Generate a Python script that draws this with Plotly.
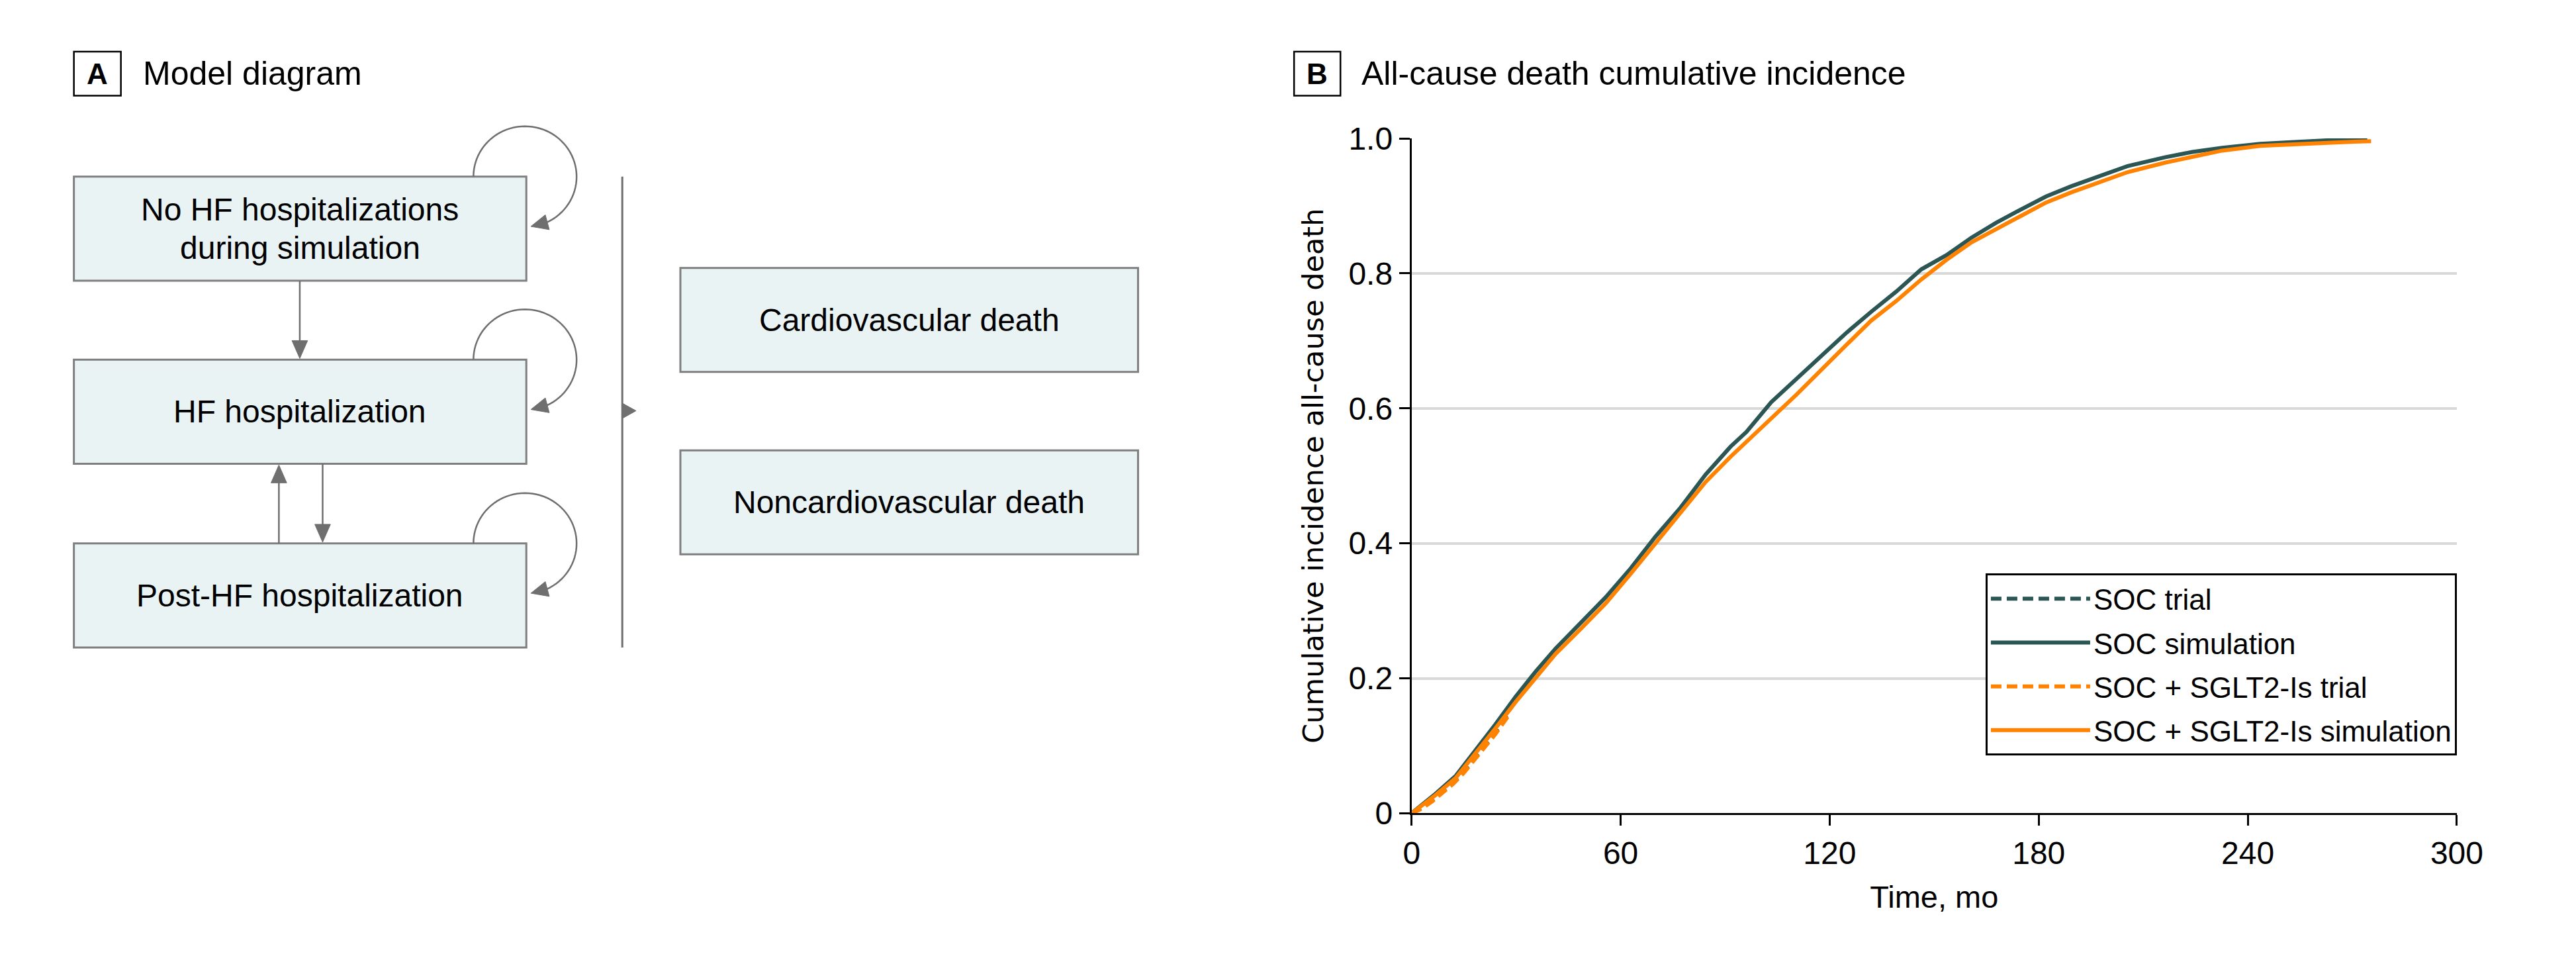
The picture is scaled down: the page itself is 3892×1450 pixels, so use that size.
import math
import plotly.graph_objects as go

W, H = 3892, 1450

# ---------------- data ----------------
soc_sim_t = [0, 6.9, 12.6, 18.4, 24.1, 29.9, 35.6, 41.3, 48.5, 55.7, 62.9, 70.0, 77.2, 84.4,
             91.5, 96.1, 103.2, 110.4, 117.6, 124.8, 131.9, 139.1, 146.3, 153.5, 160.7, 167.8,
             175.0, 182.1, 189.3, 196.5, 205.5, 216.2, 224.1, 232.7, 243.6, 254.3, 265.0, 274.3]
soc_sim_v = [0, 0.029, 0.055, 0.093, 0.132, 0.173, 0.210, 0.244, 0.283, 0.320, 0.363, 0.410, 0.453, 0.502,
             0.543, 0.565, 0.609, 0.643, 0.678, 0.712, 0.743, 0.773, 0.806, 0.827, 0.853, 0.875,
             0.895, 0.914, 0.929, 0.943, 0.959, 0.972, 0.980, 0.986, 0.992, 0.995, 0.998, 1.0]

sglt_sim_t = [0, 6.9, 12.6, 18.4, 24.1, 29.9, 35.6, 41.3, 48.5, 55.7, 62.9, 70.0, 77.2, 84.4,
              91.5, 98.7, 103.2, 110.4, 117.6, 124.8, 131.9, 139.1, 146.3, 153.5, 160.7, 167.8,
              175.0, 182.1, 189.3, 196.5, 205.5, 216.2, 224.1, 232.7, 243.6, 254.3, 265.0, 275.4]
sglt_sim_v = [0, 0.027, 0.052, 0.089, 0.126, 0.165, 0.200, 0.236, 0.273, 0.311, 0.355, 0.400, 0.445, 0.491,
              0.528, 0.562, 0.585, 0.620, 0.658, 0.694, 0.730, 0.759, 0.791, 0.820, 0.846, 0.866,
              0.886, 0.905, 0.920, 0.934, 0.950, 0.964, 0.973, 0.982, 0.989, 0.992, 0.994, 0.996]

soc_trial_t = [0, 3, 6, 9, 12, 15, 18, 21, 24, 28]
soc_trial_v = [0, 0.008, 0.020, 0.033, 0.046, 0.062, 0.082, 0.100, 0.120, 0.150]

sglt_trial_t = [0, 3, 6, 9, 12, 15, 18, 21, 24, 28]
sglt_trial_v = [0, 0.007, 0.018, 0.031, 0.044, 0.060, 0.079, 0.097, 0.117, 0.146]

x_tick_vals = [0, 60, 120, 180, 240, 300]
y_tick_vals = [0, 0.2, 0.4, 0.6, 0.8, 1.0]
y_tick_text = ["0", "0.2", "0.4", "0.6", "0.8", "1.0"]

series_names = ["SOC trial", "SOC simulation", "SOC + SGLT2-Is trial", "SOC + SGLT2-Is simulation"]

left_states = ["No HF hospitalizations|during simulation", "HF hospitalization", "Post-HF hospitalization"]
right_states = ["Cardiovascular death", "Noncardiovascular death"]

# ---------------- styles ----------------
FONT = "Liberation Sans, Arial, sans-serif"
YFONT = "DejaVu Sans, Verdana, sans-serif"
DARK = "#2B5653"
ORANGE = "#FF8300"
BOX_FILL = "#E9F3F4"
BOX_LINE = "#7F7F7F"
ARROW = "#6F6F6F"


def X(p):
    return p / W


def Y(p):
    return 1 - p / H


shapes = []
annotations = []


def rect(x0, y0, x1, y1, fill, color, width):
    shapes.append(dict(type="rect", xref="paper", yref="paper", x0=X(x0), x1=X(x1), y0=Y(y1), y1=Y(y0),
                       fillcolor=fill, line=dict(color=color, width=width), layer="above"))


def line(x0, y0, x1, y1, color, width):
    shapes.append(dict(type="line", xref="paper", yref="paper", x0=X(x0), x1=X(x1), y0=Y(y0), y1=Y(y1),
                       line=dict(color=color, width=width), layer="above"))


def poly(pts, fill=None, color=ARROW, width=2.5, closed=False):
    d = "M " + " L ".join(f"{X(a):.6f},{Y(b):.6f}" for a, b in pts)
    if closed:
        d += " Z"
    shp = dict(type="path", xref="paper", yref="paper", path=d, line=dict(color=color, width=width), layer="above")
    if fill:
        shp["fillcolor"] = fill
    shapes.append(shp)


def arrow_head(tip, direction, length=28, half=12):
    dx, dy = direction
    n = math.hypot(dx, dy)
    dx, dy = dx / n, dy / n
    bx, by = tip[0] - dx * length, tip[1] - dy * length
    px_, py_ = -dy, dx
    poly([tip, (bx + px_ * half, by + py_ * half), (bx - px_ * half, by - py_ * half)],
         fill=ARROW, color=ARROW, width=1, closed=True)


def text(x, y, s, size, anchor="center", font=FONT, bold=False):
    if bold:
        s = f"<b>{s}</b>"
    annotations.append(dict(xref="paper", yref="paper", x=X(x), y=Y(y), text=s, showarrow=False,
                            xanchor=anchor, yanchor="middle", font=dict(family=font, size=size, color="black")))


# ---------------- panel A: model diagram ----------------
BX0, BX1 = 100, 793
box_tops = [250, 537, 825]
BH = 163
for i, top in enumerate(box_tops):
    rect(BX0, top, BX1, top + BH, BOX_FILL, BOX_LINE, 3)
    lab = left_states[i].split("|")
    cy = top + BH / 2
    if len(lab) == 2:
        text((BX0 + BX1) / 2, cy - 30, lab[0], 48)
        text((BX0 + BX1) / 2, cy + 30, lab[1], 48)
    else:
        text((BX0 + BX1) / 2, cy, lab[0], 48)
    # self loop arc
    cx, cyc, r = BX1 - 2, top, 79
    pts = []
    for k in range(0, 61):
        th = math.radians(180 - k * (245 / 60))
        pts.append((cx + r * math.cos(th), cyc - r * math.sin(th)))
    poly(pts, color=ARROW, width=2.5)
    end = pts[-1]
    tip = (BX1 + 7, top + 78)
    arrow_head(tip, (tip[0] - end[0], tip[1] - end[1]), length=26, half=12)

# vertical transitions
line(446, box_tops[0] + BH, 446, box_tops[1] - 26, ARROW, 2.5)
arrow_head((446, box_tops[1] - 2), (0, 1))
line(481, box_tops[1] + BH, 481, box_tops[2] - 26, ARROW, 2.5)
arrow_head((481, box_tops[2] - 2), (0, 1))
line(414, box_tops[2], 414, box_tops[1] + BH + 26, ARROW, 2.5)
arrow_head((414, box_tops[1] + BH + 2), (0, -1))

# bracket line towards death states
line(940, 250, 940, 988, ARROW, 3)
poly([(940, 605), (961, 617), (940, 629)], fill=ARROW, color=ARROW, width=1, closed=True)

RX0, RX1 = 1029, 1730
for i, top in enumerate([393, 679]):
    rect(RX0, top, RX1, top + BH, BOX_FILL, BOX_LINE, 3)
    text((RX0 + RX1) / 2, top + BH / 2, right_states[i], 48)

# panel labels
rect(100, 54, 172, 123, "white", "black", 2.5)
text(136, 89, "A", 44, bold=True)
text(204, 88, "Model diagram", 50, anchor="left")
rect(1969, 54, 2040, 123, "white", "black", 2.5)
text(2004.5, 89, "B", 44, bold=True)
text(2070, 88, "All-cause death cumulative incidence", 50, anchor="left")

# ---------------- panel B: curves ----------------
fig = go.Figure()
fig.add_trace(go.Scatter(x=soc_trial_t, y=soc_trial_v, mode="lines", name=series_names[0], legendgroup="g1",
                         line=dict(color=DARK, width=6, dash="16px,8px")))
fig.add_trace(go.Scatter(x=soc_sim_t, y=soc_sim_v, mode="lines", name=series_names[1], legendgroup="g2",
                         line=dict(color=DARK, width=6)))
fig.add_trace(go.Scatter(x=sglt_trial_t, y=sglt_trial_v, mode="lines", name=series_names[2], legendgroup="g3",
                         line=dict(color=ORANGE, width=6, dash="16px,8px")))
fig.add_trace(go.Scatter(x=sglt_sim_t, y=sglt_sim_v, mode="lines", name=series_names[3], legendgroup="g4",
                         line=dict(color=ORANGE, width=6)))

fig.update_layout(
    width=W, height=H,
    margin=dict(l=0, r=0, t=0, b=0),
    paper_bgcolor="white", plot_bgcolor="white",
    font=dict(family=FONT, size=46, color="black"),
    shapes=shapes, annotations=annotations,
    showlegend=True,
    legend=dict(x=3750 / W, y=Y(872), xanchor="right", yanchor="top",
                bordercolor="black", borderwidth=3, bgcolor="white",
                font=dict(family=FONT, size=44, color="black"),
                itemwidth=150, tracegroupgap=6),
    xaxis=dict(domain=[2149 / W, 3750 / W], range=[0, 300], tickvals=x_tick_vals,
               ticks="outside", ticklen=16, tickwidth=3, tickcolor="black",
               showline=True, linecolor="black", linewidth=3, showgrid=False, zeroline=False,
               tickfont=dict(family=FONT, size=48),
               title=dict(text="Time, mo", font=dict(family=FONT, size=47), standoff=25)),
    yaxis=dict(domain=[1 - 1248 / H, 1 - 190 / H], range=[0, 1.0], tickvals=y_tick_vals, ticktext=y_tick_text,
               ticks="outside", ticklen=16, tickwidth=3, tickcolor="black",
               showline=True, linecolor="black", linewidth=3, showgrid=True, gridcolor="#D9D9D9", gridwidth=4,
               zeroline=False, tickfont=dict(family=FONT, size=48),
               title=dict(text="Cumulative incidence all-cause death", font=dict(family=YFONT, size=43), standoff=25)),
)

fig.write_html("out.html", config={"displayModeBar": False},
               post_script="document.body.style.margin='0';")
